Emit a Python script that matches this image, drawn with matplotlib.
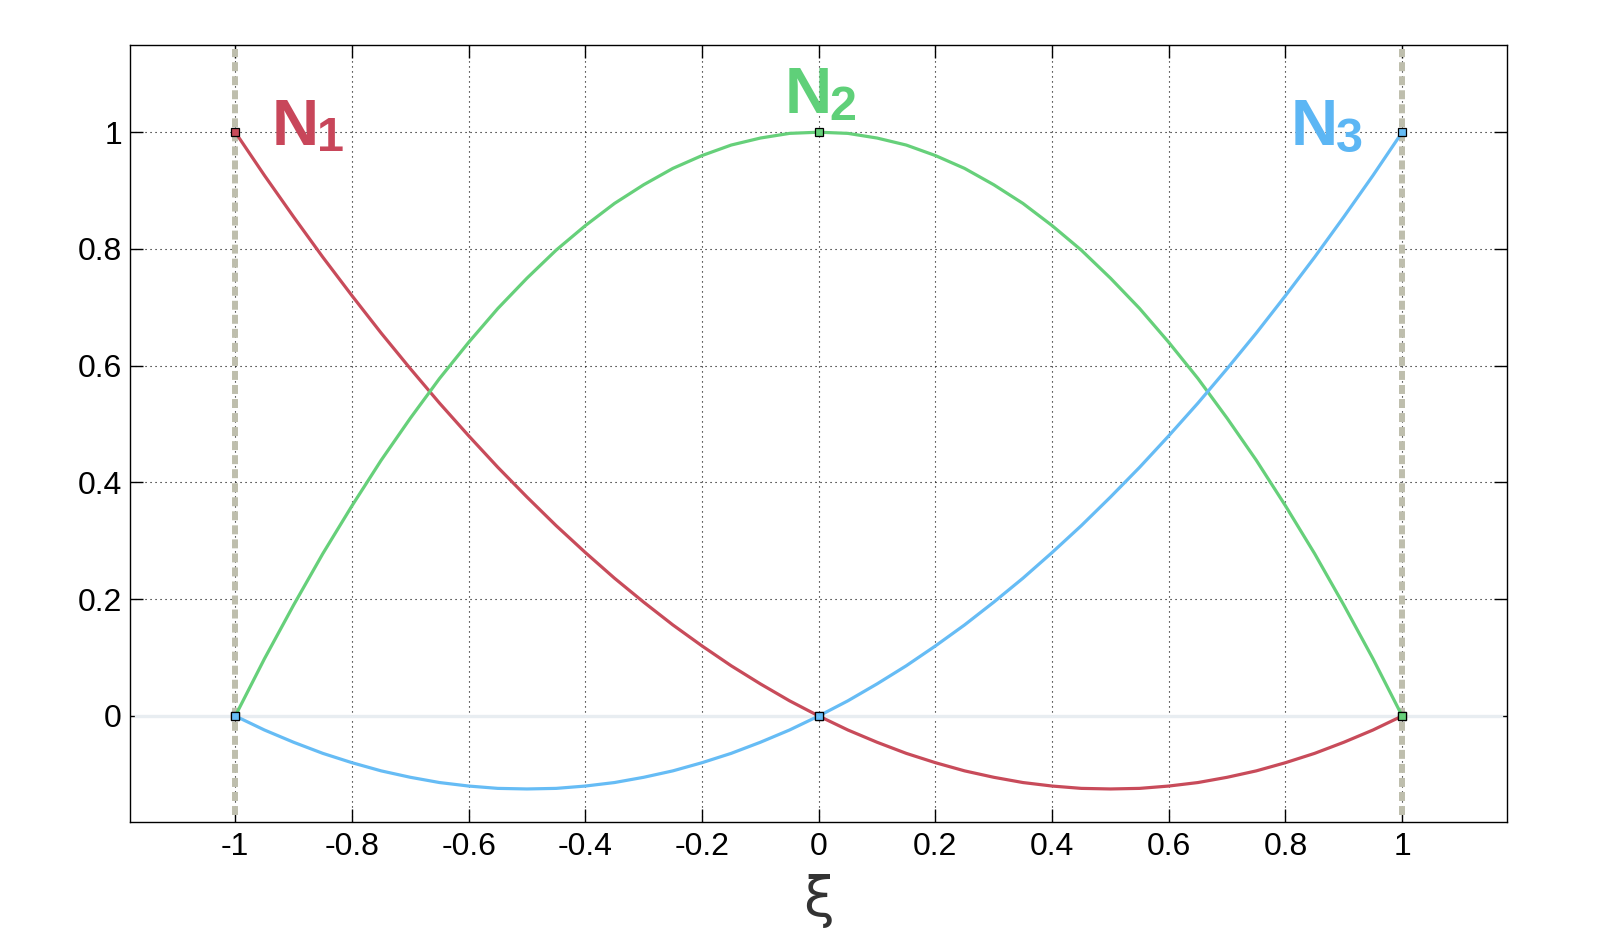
'''
Quadratic 1D shape functions N1, N2, N3 on the reference element.
'''

import matplotlib
matplotlib.use('Agg')
import matplotlib.pyplot as plt

# values (step 0.05)
xi = [-1.0, -0.95, -0.9, -0.85, -0.8, -0.75, -0.7, -0.65, -0.6, -0.55, -0.5,
      -0.45, -0.4, -0.35, -0.3, -0.25, -0.2, -0.15, -0.1, -0.05, 0.0,
      0.05, 0.1, 0.15, 0.2, 0.25, 0.3, 0.35, 0.4, 0.45, 0.5,
      0.55, 0.6, 0.65, 0.7, 0.75, 0.8, 0.85, 0.9, 0.95, 1.0]
N1 = [1.0, 0.926, 0.855, 0.786, 0.72, 0.656, 0.595, 0.536, 0.48, 0.426, 0.375,
      0.326, 0.28, 0.236, 0.195, 0.156, 0.12, 0.086, 0.055, 0.026, 0.0,
      -0.024, -0.045, -0.064, -0.08, -0.094, -0.105, -0.114, -0.12, -0.124, -0.125,
      -0.124, -0.12, -0.114, -0.105, -0.094, -0.08, -0.064, -0.045, -0.024, 0.0]
N2 = [0.0, 0.098, 0.19, 0.278, 0.36, 0.438, 0.51, 0.578, 0.64, 0.698, 0.75,
      0.798, 0.84, 0.878, 0.91, 0.938, 0.96, 0.978, 0.99, 0.998, 1.0,
      0.998, 0.99, 0.978, 0.96, 0.938, 0.91, 0.878, 0.84, 0.798, 0.75,
      0.698, 0.64, 0.578, 0.51, 0.438, 0.36, 0.278, 0.19, 0.098, 0.0]
N3 = [0.0, -0.024, -0.045, -0.064, -0.08, -0.094, -0.105, -0.114, -0.12, -0.124, -0.125,
      -0.124, -0.12, -0.114, -0.105, -0.094, -0.08, -0.064, -0.045, -0.024, 0.0,
      0.026, 0.055, 0.086, 0.12, 0.156, 0.195, 0.236, 0.28, 0.326, 0.375,
      0.426, 0.48, 0.536, 0.595, 0.656, 0.72, 0.786, 0.855, 0.926, 1.0]

# nodes of the element
xi_nodes = [-1.0, 0.0, 1.0]
N1_nodes = [1.0, 0.0, 0.0]
N2_nodes = [0.0, 1.0, 0.0]
N3_nodes = [0.0, 0.0, 1.0]

# label text: letter + subscript digit
label_letter = ['N', 'N', 'N']
label_digit = ['1', '2', '3']
letter_pos = [(-0.937, 0.978), (-0.058, 1.033), (0.809, 0.978)]
digit_pos = [(-0.860, 0.968), (0.0175, 1.021), (0.886, 0.966)]

xticks = [-1, -0.8, -0.6, -0.4, -0.2, 0, 0.2, 0.4, 0.6, 0.8, 1]
xticklabels = ['-1', '-0.8', '-0.6', '-0.4', '-0.2', '0', '0.2', '0.4', '0.6', '0.8', '1']
yticks = [0, 0.2, 0.4, 0.6, 0.8, 1]
yticklabels = ['0', '0.2', '0.4', '0.6', '0.8', '1']

colors = ['#c84b5a', '#66d07a', '#66bcf5']
text_colors = ['#c8465a', '#5fd079', '#5cb6f4']

plt.rcParams['font.family'] = ['Liberation Sans', 'DejaVu Sans']
plt.rcParams['axes.unicode_minus'] = False

fig = plt.figure(figsize=(16, 9.5), dpi=100)
ax = fig.add_axes([0.0814, 0.1351, 0.8606, 0.8173])

# element boundaries and zero line
for xb in [-1.0, 1.0]:
    ax.plot([xb, xb], [-0.17, 1.143], color='#bebead', linewidth=4.3,
            linestyle=(0, (1.5, 0.85)), dash_capstyle='butt', zorder=0.55)
ax.plot([-1.17, 1.17], [0, 0], color='#e8edf1', linewidth=2.4, zorder=0.6)

# shape functions
for ys, c in zip([N1, N2, N3], colors):
    ax.plot(xi, ys, color=c, linewidth=2.3, zorder=2)
for yn, c in zip([N1_nodes, N2_nodes, N3_nodes], colors):
    ax.plot(xi_nodes, yn, linestyle='none', marker='s', markersize=6,
            markerfacecolor=c, markeredgecolor='black', markeredgewidth=0.9, zorder=3)

for let, dig, lp, dp, c in zip(label_letter, label_digit, letter_pos, digit_pos, text_colors):
    ax.text(lp[0], lp[1], let, color=c, fontsize=47, fontweight='bold',
            ha='left', va='baseline', zorder=4)
    ax.text(dp[0], dp[1], dig, color=c, fontsize=35, fontweight='bold',
            ha='left', va='baseline', zorder=4)

ax.set_xlim(-1.18, 1.18)
ax.set_ylim(-0.181, 1.149)
ax.set_xticks(xticks)
ax.set_xticklabels(xticklabels)
ax.set_yticks(yticks)
ax.set_yticklabels(yticklabels)
ax.tick_params(axis='both', direction='in', top=True, right=True, length=9.5,
               width=1.0, labelsize=23)
ax.tick_params(axis='x', pad=7.5)
ax.tick_params(axis='y', pad=6)
ax.set_axisbelow(True)
ax.grid(True, color='black', linestyle=(0, (1, 3.5)), linewidth=0.8)
for sp in ax.spines.values():
    sp.set_linewidth(1.0)

ax.set_xlabel('\u03be', fontsize=40, color='#333333', labelpad=8.5,
              family=['DejaVu Sans'])

fig.savefig('out.png', dpi=100)
